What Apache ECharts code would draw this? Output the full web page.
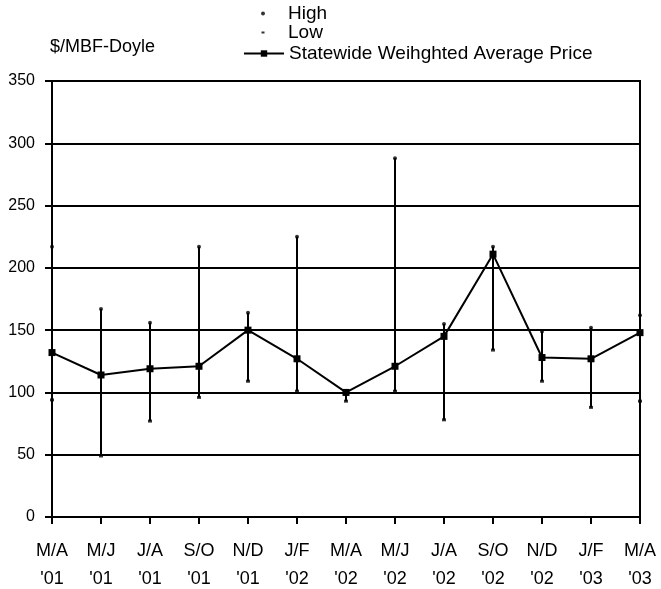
<!DOCTYPE html>
<html>
<head>
<meta charset="utf-8">
<script src="https://cdn.jsdelivr.net/npm/echarts@6/dist/echarts.min.js"></script>
<style>
html, body { margin: 0; padding: 0; background: #fff; }
#priceChart { width: 661px; height: 589px; }
</style>
</head>
<body>
<div id="priceChart"></div>
<script>
var periods = ["M/A\n'01", "M/J\n'01", "J/A\n'01", "S/O\n'01", "N/D\n'01", "J/F\n'02", "M/A\n'02",
    "M/J\n'02", "J/A\n'02", "S/O\n'02", "N/D\n'02", "J/F\n'03", "M/A\n'03"];
var highPrices = [217, 167, 156, 217, 164, 225, 101, 288, 155, 217, 149, 152, 162];
var lowPrices = [94, 49, 77, 96, 109, 101, 93, 101, 78, 134, 109, 88, 93];
var avgPrices = [132, 114, 119, 121, 150, 127, 100, 121, 145, 211, 128, 127, 148];
var avgName = 'Statewide Weihghted Average Price';

var font = 'Liberation Sans, Arial, sans-serif';
var priceChart = echarts.init(document.getElementById('priceChart'));

var rangeData = periods.map(function (p, i) { return [i, lowPrices[i], highPrices[i]]; });

// legend icons: the extra moveTo points keep the small mark centred in a 40px wide box
var dotIcon = 'path://M0,0M40,4M20,0A2,2,0,1,1,20,4A2,2,0,1,1,20,0Z';
var dashIcon = 'path://M0,0M40,2M18.5,0H21.5V2H18.5Z';
var legendText = { fontFamily: font, fontSize: 19, color: '#000' };

var priceOption = {
    animation: false,
    title: {
        text: '$/MBF-Doyle',
        left: 45, top: 33,
        textStyle: { fontFamily: font, fontSize: 18, fontWeight: 'normal', color: '#000' }
    },
    legend: [
        {
            data: [{ name: 'High', icon: dotIcon }],
            left: 238, top: -1,
            itemWidth: 40, itemHeight: 4,
            textStyle: legendText
        },
        {
            data: [{ name: 'Low', icon: dashIcon }],
            left: 238, top: 18,
            itemWidth: 40, itemHeight: 2,
            textStyle: legendText
        },
        {
            data: [avgName],
            left: 238, top: 39,
            itemWidth: 40, itemHeight: 8,
            textStyle: legendText
        }
    ],
    grid: {
        left: 52, right: 21, top: 81, bottom: 72,
        outerBoundsMode: 'none',
        containLabel: false,
        show: true, borderColor: '#000', borderWidth: 2
    },
    xAxis: {
        type: 'category',
        boundaryGap: false,
        data: periods,
        axisLine: { lineStyle: { color: '#000', width: 2 } },
        axisTick: { length: 7, lineStyle: { color: '#000', width: 2 } },
        axisLabel: { color: '#000', fontFamily: font, fontSize: 18, lineHeight: 28, margin: 20 },
        splitLine: { show: false }
    },
    yAxis: {
        type: 'value',
        min: 0, max: 350, interval: 50,
        axisLine: { show: true, lineStyle: { color: '#000', width: 2 } },
        axisTick: { show: true, length: 7, lineStyle: { color: '#000', width: 2 } },
        axisLabel: { color: '#000', fontFamily: font, fontSize: 16, margin: 17 },
        splitLine: { lineStyle: { color: '#000', width: 2 } }
    },
    series: [
        {
            name: 'range',
            type: 'custom',
            data: rangeData,
            renderItem: function (params, api) {
                var lo = api.coord([api.value(0), api.value(1)]);
                var hi = api.coord([api.value(0), api.value(2)]);
                return {
                    type: 'line',
                    shape: { x1: lo[0], y1: lo[1], x2: hi[0], y2: hi[1] },
                    style: { stroke: '#000', lineWidth: 2 }
                };
            },
            z: 2
        },
        {
            name: 'High',
            type: 'scatter',
            data: highPrices,
            symbol: 'circle', symbolSize: 4,
            itemStyle: { color: '#000' },
            z: 3
        },
        {
            name: 'Low',
            type: 'scatter',
            data: lowPrices,
            symbol: 'rect', symbolSize: [4, 3],
            itemStyle: { color: '#000' },
            z: 3
        },
        {
            name: avgName,
            type: 'line',
            data: avgPrices,
            symbol: 'rect', symbolSize: 7,
            itemStyle: { color: '#000' },
            lineStyle: { color: '#000', width: 2 },
            z: 4
        }
    ]
};
priceChart.setOption(priceOption);
</script>
</body>
</html>
